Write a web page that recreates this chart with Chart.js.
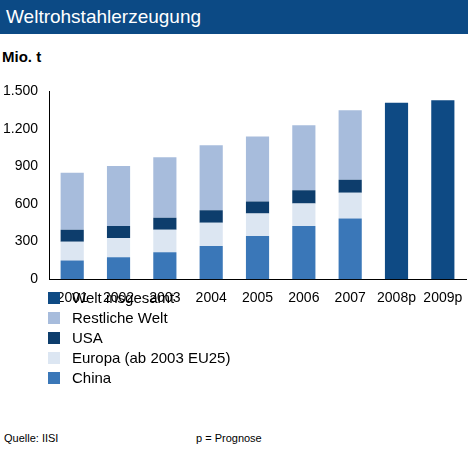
<!DOCTYPE html>
<html><head><meta charset="utf-8">
<script src="https://cdn.jsdelivr.net/npm/chart.js@4"></script>
<style>
body{margin:0;width:468px;height:456px;background:#fff;font-family:Arial,"Liberation Sans",sans-serif;position:relative;overflow:hidden}
#head{position:absolute;left:0;top:0;width:468px;height:34px;background:#0c4a85;color:#fff;font-size:19px;line-height:34px;padding-left:6px;box-sizing:border-box}
#unit{position:absolute;left:2px;top:48px;font-size:15px;font-weight:bold;color:#000}
#wrap{position:absolute;left:0;top:80px;width:468px;height:230px}
#legend{position:absolute;left:48px;top:288px;font-size:15px;color:#000}
#legend div{height:20px;line-height:20px;display:flex;align-items:center}
#legend span{display:inline-block;width:12px;height:12px;margin-right:12px}
.foot{position:absolute;top:432px;font-size:11px;color:#000}
</style></head><body>
<div id="head">Weltrohstahlerzeugung</div>
<div id="unit">Mio. t</div>
<div id="wrap"><canvas id="c"></canvas></div>
<div id="legend"></div>
<div class="foot" style="left:4px">Quelle: IISI</div>
<div class="foot" style="left:196px">p = Prognose</div>
<script>
const years = ['2001','2002','2003','2004','2005','2006','2007','2008p','2009p'];
const china = [150, 175, 215, 265, 345, 425, 485, null, null];
const europa = [150, 155, 180, 185, 180, 180, 205, null, null];
const usa = [95, 95, 95, 100, 95, 105, 105, null, null];
const rest = [455, 480, 485, 520, 520, 520, 555, null, null];
const welt = [null, null, null, null, null, null, null, 1410, 1430];
const yTicks = [0, 300, 600, 900, 1200, 1500];

const series = [
  { label: 'China', data: china, color: '#3a77b8' },
  { label: 'Europa (ab 2003 EU25)', data: europa, color: '#dce6f2' },
  { label: 'USA', data: usa, color: '#0d3d6c' },
  { label: 'Restliche Welt', data: rest, color: '#a7bcdc' },
  { label: 'Welt insgesamt', data: welt, color: '#0e4a84' },
];

const leg = document.getElementById('legend');
[...series].reverse().forEach(s => {
  const d = document.createElement('div');
  d.innerHTML = `<span style="background:${s.color}"></span>${s.label}`;
  leg.appendChild(d);
});

new Chart(document.getElementById('c'), {
  type: 'bar',
  data: {
    labels: years,
    datasets: series.map(s => ({
      label: s.label, data: s.data, backgroundColor: s.color,
      categoryPercentage: 0.5, barPercentage: 1, skipNull: true,
    })),
  },
  options: {
    responsive: true, maintainAspectRatio: false, animation: false,
    layout: { padding: { left: 0, right: 2, top: 4 } },
    plugins: { legend: { display: false }, tooltip: { enabled: false } },
    scales: {
      x: {
        stacked: true,
        grid: { display: false },
        border: { color: '#000' },
        ticks: { color: '#000', font: { size: 14, family: 'Arial' }, maxRotation: 0, minRotation: 0, autoSkip: false },
      },
      y: {
        stacked: true, min: 0, max: 1500,
        afterBuildTicks: ax => { ax.ticks = yTicks.map(v => ({ value: v })); },
        grid: { display: false },
        border: { color: '#000' },
        ticks: {
          color: '#000', font: { size: 14, family: 'Arial' },
          callback: v => v.toLocaleString('de-DE'),
        },
      },
    },
  },
});
</script>
</body></html>
